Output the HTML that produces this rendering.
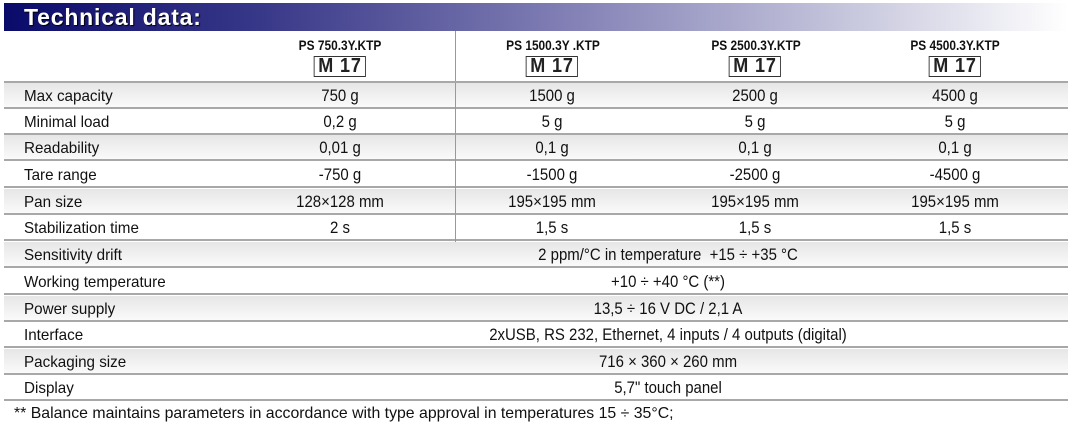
<!DOCTYPE html>
<html><head><meta charset="utf-8"><style>
body{margin:0;width:1076px;height:432px;background:#fff;position:relative;overflow:hidden;font-family:"Liberation Sans",sans-serif;color:#111}
.bar{position:absolute;left:4px;top:3px;width:1064px;height:28px;background:linear-gradient(90deg,#0a0a6a 0%,#3a3a8a 25%,#7a78b0 50%,#c8c8de 80%,#fff 100%)}
.bar span{position:absolute;left:20px;top:1px;font-weight:bold;font-size:23px;color:#fff;text-shadow:1px 1px 1px #000;letter-spacing:0.8px}
.row{position:absolute;left:4px;width:1064px;height:26px;border-bottom:2px solid #a8a8a8;box-sizing:border-box;background:linear-gradient(#e6e6e6,#fafafa)}
.row.w{background:#fff}
.lab{position:absolute;left:20px;top:5px;font-size:16px;white-space:nowrap;transform:scaleX(0.95);transform-origin:left}
.v{position:absolute;top:3px;font-size:17px;transform:translateX(-50%) scaleX(0.88);white-space:nowrap}
.vl{position:absolute;left:455px;width:1px;background:#999;top:31px;height:211px}
.mh{position:absolute;top:37px;font-weight:bold;font-size:14px;transform:translateX(-50%) scaleX(0.85);white-space:nowrap}
.m{position:absolute;top:56px;border:1px solid #333;font-weight:bold;font-size:20px;line-height:19px;padding:0 4px;transform:translateX(-50%) scaleX(0.9);color:#222;letter-spacing:1px}
.foot{position:absolute;left:14px;top:405px;font-size:16px;transform:scaleX(0.99);transform-origin:left}
</style></head><body>
<div class="bar"><span>Technical data:</span></div>
<div class="mh" style="left:340px">PS 750.3Y.KTP</div>
<div class="mh" style="left:553px">PS 1500.3Y .KTP</div>
<div class="mh" style="left:756px">PS 2500.3Y.KTP</div>
<div class="mh" style="left:955px">PS 4500.3Y.KTP</div>
<div class="m" style="left:340px">M 17</div>
<div class="m" style="left:552px">M 17</div>
<div class="m" style="left:755px">M 17</div>
<div class="m" style="left:955px">M 17</div>

<div class="row" style="top:83px"><div class="lab">Max capacity</div><div class="v" style="left:336px">750 g</div><div class="v" style="left:548px">1500 g</div><div class="v" style="left:751px">2500 g</div><div class="v" style="left:951px">4500 g</div></div>
<div class="row w" style="top:109px"><div class="lab">Minimal load</div><div class="v" style="left:336px">0,2 g</div><div class="v" style="left:548px">5 g</div><div class="v" style="left:751px">5 g</div><div class="v" style="left:951px">5 g</div></div>
<div class="row" style="top:135px"><div class="lab">Readability</div><div class="v" style="left:336px">0,01 g</div><div class="v" style="left:548px">0,1 g</div><div class="v" style="left:751px">0,1 g</div><div class="v" style="left:951px">0,1 g</div></div>
<div class="row w" style="top:162px"><div class="lab">Tare range</div><div class="v" style="left:336px">-750 g</div><div class="v" style="left:548px">-1500 g</div><div class="v" style="left:751px">-2500 g</div><div class="v" style="left:951px">-4500 g</div></div>
<div class="row" style="top:189px"><div class="lab">Pan size</div><div class="v" style="left:336px">128×128 mm</div><div class="v" style="left:548px">195×195 mm</div><div class="v" style="left:751px">195×195 mm</div><div class="v" style="left:951px">195×195 mm</div></div>
<div class="row w" style="top:215px"><div class="lab">Stabilization time</div><div class="v" style="left:336px">2 s</div><div class="v" style="left:548px">1,5 s</div><div class="v" style="left:751px">1,5 s</div><div class="v" style="left:951px">1,5 s</div></div>
<div class="row" style="top:242px"><div class="lab">Sensitivity drift</div><div class="v" style="left:664px">2 ppm/°C in temperature&nbsp; +15 ÷ +35 °C</div></div>
<div class="row w" style="top:269px"><div class="lab">Working temperature</div><div class="v" style="left:664px">+10 ÷ +40 °C (**)</div></div>
<div class="row" style="top:296px"><div class="lab">Power supply</div><div class="v" style="left:664px">13,5 ÷ 16 V DC / 2,1 A</div></div>
<div class="row w" style="top:322px"><div class="lab">Interface</div><div class="v" style="left:664px">2xUSB, RS 232, Ethernet, 4 inputs / 4 outputs (digital)</div></div>
<div class="row" style="top:349px"><div class="lab">Packaging size</div><div class="v" style="left:664px">716 × 360 × 260 mm</div></div>
<div class="row w" style="top:375px"><div class="lab">Display</div><div class="v" style="left:664px">5,7" touch panel</div></div>
<div class="vl"></div>
<div style="position:absolute;left:4px;top:81px;width:1064px;height:2px;background:#a8a8a8"></div>
<div class="foot">** Balance maintains parameters in accordance with type approval in temperatures 15 ÷ 35°C;</div>
</body></html>
